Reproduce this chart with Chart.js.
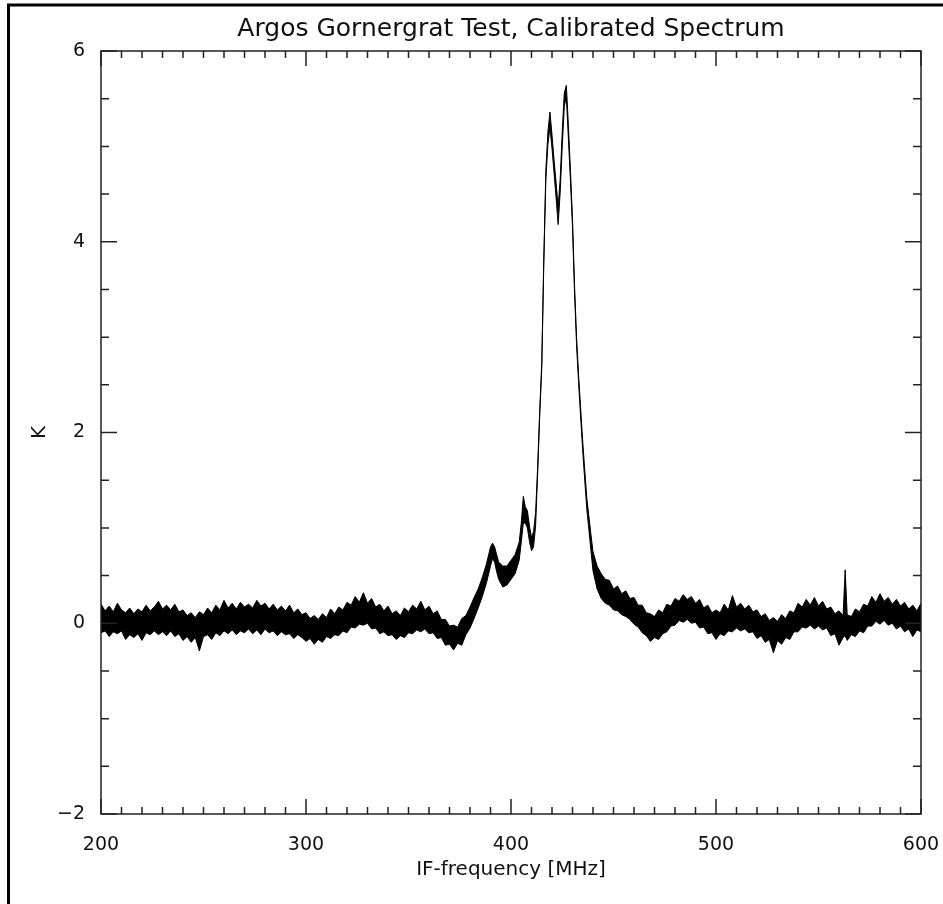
<!DOCTYPE html>
<html>
<head>
<meta charset="utf-8">
<title>Argos Gornergrat Test, Calibrated Spectrum</title>
<script src="https://cdn.jsdelivr.net/npm/chart.js@4"></script>
<style>
  html, body { margin: 0; padding: 0; background: #fff; overflow: hidden; }
  #wrap { width: 943px; height: 904px; position: relative; }
</style>
</head>
<body>
<div id="wrap"><canvas id="spectrum"></canvas></div>
<script>
// Spectrum: the noisy trace is given as upper / lower edge of the band (K)
const freqMHz = [
  200, 202, 204, 206, 208, 210, 212, 214, 216, 218,
  220, 222, 224, 226, 228, 230, 232, 234, 236, 238,
  240, 242, 244, 246, 248, 250, 252, 254, 256, 258,
  260, 262, 264, 266, 268, 270, 272, 274, 276, 278,
  280, 282, 284, 286, 288, 290, 292, 294, 296, 298,
  300, 302, 304, 306, 308, 310, 312, 314, 316, 318,
  320, 322, 324, 326, 328, 330, 332, 334, 336, 338,
  340, 342, 344, 346, 348, 350, 352, 354, 356, 358,
  360, 362, 364, 366, 368, 370, 372, 374, 376, 378,
  380,
  // line complex
  382, 384, 386, 388, 390, 391, 392, 393, 394, 396, 398, 400, 402, 404,
  405, 406, 407, 408, 409, 410, 411, 412, 413, 414, 415, 416, 417, 418, 419, 420,
  421, 422, 423, 424, 425, 426, 427, 428, 429, 430, 431, 432, 433, 434, 435, 436,
  437, 438, 439, 440, 442, 444,
  // upper sideband baseline
  446, 448, 450, 452, 454, 456, 458, 460, 462, 464,
  466, 468, 470, 472, 474, 476, 478, 480, 482, 484,
  486, 488, 490, 492, 494, 496, 498, 500, 502, 504,
  506, 508, 510, 512, 514, 516, 518, 520, 522, 524,
  526, 528, 530, 532, 534, 536, 538, 540, 542, 544,
  546, 548, 550, 552, 554, 556, 558, 560, 562, 563, 564,
  566, 568, 570, 572, 574, 576, 578, 580, 582, 584,
  586, 588, 590, 592, 594, 596, 598, 600
];

const upperK = [
  0.20, 0.13, 0.18, 0.12, 0.21, 0.14, 0.11, 0.16, 0.10, 0.15,
  0.12, 0.19, 0.13, 0.17, 0.23, 0.15, 0.19, 0.14, 0.20, 0.12,
  0.14, 0.08, 0.11, 0.06, 0.12, 0.09, 0.16, 0.11, 0.19, 0.14,
  0.24, 0.16, 0.21, 0.15, 0.22, 0.17, 0.20, 0.16, 0.24, 0.18,
  0.21, 0.15, 0.20, 0.14, 0.18, 0.13, 0.19, 0.11, 0.15, 0.09,
  0.11, 0.05, 0.08, 0.04, 0.10, 0.06, 0.15, 0.10, 0.17, 0.14,
  0.22, 0.19, 0.28, 0.22, 0.32, 0.21, 0.26, 0.17, 0.20, 0.13,
  0.18, 0.10, 0.13, 0.08, 0.16, 0.12, 0.19, 0.15, 0.23, 0.14,
  0.18, 0.10, 0.13, 0.04, 0.04, -0.03, -0.02, -0.04, 0.05, 0.08,
  0.17,
  0.27, 0.36, 0.48, 0.62, 0.80, 0.84, 0.80, 0.72, 0.64, 0.60, 0.60, 0.66, 0.72, 0.85,
  1.05, 1.33, 1.22, 1.18, 1.02, 0.90, 0.96, 1.16, 1.64, 2.23, 2.73, 3.83, 4.75, 5.15, 5.36, 5.12,
  4.86, 4.62, 4.36, 4.66, 5.16, 5.56, 5.64, 5.22, 4.75, 4.24, 3.54, 2.99, 2.59, 2.25, 1.90, 1.60,
  1.31, 1.12, 0.93, 0.75, 0.60, 0.52,
  0.46, 0.45, 0.36, 0.39, 0.31, 0.34, 0.26, 0.27, 0.19, 0.19,
  0.11, 0.10, 0.07, 0.14, 0.11, 0.20, 0.18, 0.26, 0.23, 0.30,
  0.25, 0.28, 0.21, 0.25, 0.16, 0.19, 0.11, 0.14, 0.11, 0.20,
  0.14, 0.29, 0.17, 0.21, 0.15, 0.19, 0.12, 0.14, 0.07, 0.10,
  0.03, 0.06, 0.02, 0.09, 0.05, 0.13, 0.11, 0.21, 0.17, 0.25,
  0.19, 0.27, 0.18, 0.23, 0.15, 0.17, 0.10, 0.13, 0.08, 0.56, 0.09,
  0.07, 0.15, 0.12, 0.20, 0.18, 0.28, 0.22, 0.31, 0.23, 0.27,
  0.20, 0.25, 0.18, 0.22, 0.15, 0.19, 0.13, 0.21
];

const lowerK = [
  -0.10, -0.08, -0.14, -0.09, -0.11, -0.08, -0.17, -0.12, -0.15, -0.11,
  -0.18, -0.10, -0.12, -0.08, -0.12, -0.09, -0.13, -0.08, -0.14, -0.11,
  -0.18, -0.14, -0.20, -0.15, -0.29, -0.14, -0.12, -0.17, -0.10, -0.13,
  -0.08, -0.11, -0.07, -0.12, -0.08, -0.10, -0.06, -0.11, -0.07, -0.12,
  -0.06, -0.10, -0.08, -0.13, -0.09, -0.12, -0.11, -0.16, -0.12, -0.15,
  -0.19, -0.16, -0.22, -0.17, -0.20, -0.14, -0.16, -0.12, -0.13, -0.08,
  -0.10, -0.04, -0.05, -0.01, -0.02, 0.00, -0.06, -0.05, -0.11, -0.09,
  -0.13, -0.12, -0.17, -0.13, -0.15, -0.10, -0.11, -0.07, -0.09, -0.06,
  -0.11, -0.10, -0.16, -0.15, -0.23, -0.22, -0.28, -0.21, -0.23, -0.12,
  -0.05,
  0.05, 0.16, 0.28, 0.42, 0.60, 0.68, 0.64, 0.54, 0.46, 0.38, 0.40, 0.46, 0.52, 0.66,
  0.85, 1.05, 1.05, 1.00, 0.86, 0.76, 0.80, 1.02, 1.56, 2.17, 2.67, 3.77, 4.65, 5.02, 5.20, 4.98,
  4.72, 4.46, 4.18, 4.52, 5.00, 5.42, 5.52, 5.08, 4.64, 4.15, 3.46, 2.91, 2.51, 2.15, 1.80, 1.49,
  1.19, 0.98, 0.76, 0.55, 0.36, 0.26,
  0.21, 0.19, 0.14, 0.13, 0.09, 0.07, 0.04, -0.01, -0.04, -0.10,
  -0.13, -0.19, -0.15, -0.17, -0.11, -0.09, -0.03, -0.02, 0.03, 0.01,
  0.04, 0.00, 0.01, -0.05, -0.04, -0.11, -0.10, -0.17, -0.11, -0.13,
  -0.08, -0.09, -0.05, -0.08, -0.06, -0.10, -0.09, -0.16, -0.13, -0.20,
  -0.17, -0.31, -0.18, -0.22, -0.15, -0.17, -0.09, -0.09, -0.04, -0.05,
  -0.02, -0.06, -0.03, -0.07, -0.05, -0.13, -0.11, -0.23, -0.15, -0.13, -0.18,
  -0.12, -0.14, -0.08, -0.10, -0.03, -0.03, 0.02, -0.01, 0.03, -0.02,
  0.00, -0.06, -0.03, -0.09, -0.06, -0.14, -0.07, -0.09
];

// Labelled (major) ticks
const xMajorTicks = [200, 300, 400, 500, 600];
const yMajorTicks = [-2, 0, 2, 4, 6];

const FONT = "'DejaVu Sans', sans-serif";
const INK = '#111';

// Plot frame with inward ticks on all four sides (IDL style) and page border
const framePlugin = {
  id: 'frame',
  afterDraw(chart) {
    const { ctx, chartArea: a, scales: { x, y } } = chart;
    ctx.save();
    ctx.strokeStyle = '#222';
    ctx.lineWidth = 1.5;
    ctx.strokeRect(a.left, a.top, a.right - a.left, a.bottom - a.top);

    ctx.beginPath();
    x.ticks.forEach(t => {
      const px = x.getPixelForValue(t.value);
      const len = xMajorTicks.includes(t.value) ? 15 : 7;
      ctx.moveTo(px, a.bottom);
      ctx.lineTo(px, a.bottom - len);
      ctx.moveTo(px, a.top);
      ctx.lineTo(px, a.top + len);
    });
    y.ticks.forEach(t => {
      const py = y.getPixelForValue(t.value);
      const len = yMajorTicks.includes(t.value) ? 16 : 8;
      ctx.moveTo(a.left, py);
      ctx.lineTo(a.left + len, py);
      ctx.moveTo(a.right, py);
      ctx.lineTo(a.right - len, py);
    });
    ctx.stroke();

    // outer border of the page (only left and top edges are visible)
    ctx.strokeStyle = '#000';
    ctx.lineWidth = 3;
    ctx.strokeRect(8.5, 5, 2000, 2000);
    ctx.restore();
  }
};

const upperPts = freqMHz.map((f, i) => ({ x: f, y: upperK[i] }));
const lowerPts = freqMHz.map((f, i) => ({ x: f, y: lowerK[i] }));

new Chart(document.getElementById('spectrum').getContext('2d'), {
  type: 'line',
  data: {
    datasets: [
      {
        label: 'upper',
        data: upperPts,
        borderColor: '#000',
        backgroundColor: '#000',
        borderWidth: 1,
        fill: '+1',
        pointRadius: 0,
        tension: 0
      },
      {
        label: 'lower',
        data: lowerPts,
        borderColor: '#000',
        borderWidth: 1,
        fill: false,
        pointRadius: 0,
        tension: 0
      }
    ]
  },
  options: {
    responsive: true,
    maintainAspectRatio: false,
    animation: false,
    layout: { padding: { left: 0, right: 22, top: 0, bottom: 0 } },
    plugins: {
      legend: { display: false },
      tooltip: { enabled: false },
      title: {
        display: true,
        fullSize: false,
        text: 'Argos Gornergrat Test, Calibrated Spectrum',
        color: INK,
        font: { family: FONT, size: 25, weight: 'normal', lineHeight: 1.2 },
        padding: { top: 14, bottom: 7 }
      }
    },
    scales: {
      x: {
        type: 'linear',
        min: 200,
        max: 600,
        grid: { display: false },
        border: { display: false },
        ticks: {
          stepSize: 10,
          autoSkip: false,
          maxRotation: 0,
          padding: 12,
          color: INK,
          font: { family: FONT, size: 19 },
          callback: v => xMajorTicks.includes(v) ? String(v) : ''
        },
        title: {
          display: true,
          text: 'IF-frequency [MHz]',
          color: INK,
          font: { family: FONT, size: 20, lineHeight: 1.2 },
          padding: { top: 0, bottom: 22 }
        },
        afterFit: s => {
          s.height = 90;
          s.paddingLeft = 0;
          s.paddingRight = 0;
        }
      },
      y: {
        min: -2,
        max: 6,
        grid: { display: false },
        border: { display: false },
        ticks: {
          stepSize: 0.5,
          autoSkip: false,
          padding: 8,
          color: INK,
          font: { family: FONT, size: 19 },
          callback: v => yMajorTicks.includes(v) ? (v < 0 ? '\u2212' + Math.abs(v) : String(v)) : ''
        },
        title: {
          display: true,
          text: 'K',
          color: INK,
          font: { family: FONT, size: 20, lineHeight: 1.2 },
          padding: { top: 28, bottom: 0 }
        },
        afterFit: s => {
          s.width = 101;
          s.paddingTop = 0;
          s.paddingBottom = 0;
        }
      }
    }
  },
  plugins: [framePlugin]
});
</script>
</body>
</html>
